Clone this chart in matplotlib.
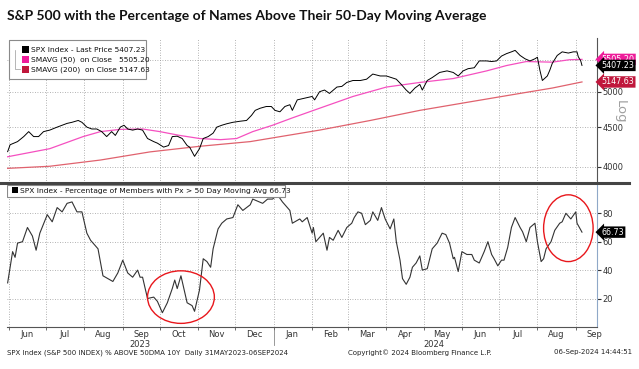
import pandas as pd
import matplotlib
matplotlib.use('Agg')
import matplotlib.pyplot as plt
import matplotlib.dates as mdates
from matplotlib.patches import Ellipse
from matplotlib.ticker import FixedLocator, NullFormatter, NullLocator

# data (days since 31 May 2023)
startDate = pd.Timestamp('2023-05-31')

spxDays = [0, 2, 8, 13, 17, 21, 25, 29, 34, 40, 44, 48, 52, 57, 60, 64, 68, 72, 76, 80,
           84, 87, 91, 94, 97, 101, 105, 109, 113, 118, 121, 126, 130, 133, 137, 141, 145, 147, 151, 155,
           158, 162, 166, 169, 173, 177, 182, 188, 193, 197, 200, 204, 209, 213, 216, 220, 224, 228, 230, 234,
           240, 246, 248, 252, 256, 260, 266, 270, 274, 279, 285, 290, 295, 301, 306, 310, 314, 318, 322, 325,
           329, 333, 335, 339, 343, 349, 355, 360, 364, 368, 372, 377, 381, 387, 391, 395, 399, 403, 407, 410,
           414, 418, 422, 426, 428, 430, 432, 436, 438, 440, 444, 448, 453, 457, 460, 461, 463, 464]
spxPrice = [4183, 4270, 4310, 4375, 4440, 4375, 4375, 4440, 4460, 4500, 4525, 4550, 4565, 4590, 4565, 4500, 4475, 4475, 4440, 4375,
            4440, 4390, 4500, 4525, 4475, 4460, 4475, 4460, 4350, 4310, 4290, 4240, 4260, 4375, 4380, 4350, 4260, 4240, 4125, 4220,
            4350, 4375, 4420, 4500, 4525, 4545, 4565, 4580, 4590, 4660, 4730, 4760, 4785, 4785, 4730, 4710, 4785, 4810, 4730, 4880,
            4905, 4930, 4880, 5000, 5025, 4975, 5070, 5080, 5140, 5170, 5170, 5190, 5270, 5240, 5240, 5215, 5190, 5110, 5025, 4975,
            5055, 5110, 5025, 5170, 5215, 5295, 5320, 5295, 5240, 5320, 5355, 5370, 5480, 5480, 5470, 5480, 5560, 5600, 5630, 5655,
            5570, 5515, 5480, 5515, 5540, 5330, 5170, 5240, 5330, 5440, 5570, 5630, 5610, 5630, 5630, 5550, 5480, 5407.23]

sma50Days = [0, 34, 61, 75, 91, 109, 123, 139, 155, 172, 185, 198, 214, 230, 252, 279, 306, 333, 360, 387, 403, 419, 440, 454, 464]
sma50 = [4120, 4220, 4375, 4440, 4470, 4475, 4440, 4390, 4350, 4335, 4350, 4440, 4525, 4625, 4760, 4930, 5070, 5140, 5200, 5320,
         5405, 5470, 5460, 5500, 5505.20]

sma200Days = [0, 34, 75, 115, 155, 196, 252, 293, 333, 373, 414, 440, 464]
sma200 = [3980, 4005, 4080, 4180, 4250, 4310, 4460, 4590, 4730, 4850, 4975, 5055, 5147.63]

pctDays = [0, 4, 6, 8, 12, 16, 20, 23, 26, 32, 36, 40, 44, 48, 52, 56, 60, 64, 67, 73,
           77, 81, 85, 89, 93, 97, 101, 105, 107, 109, 113, 118, 121, 125, 129, 133, 135, 137, 140, 145,
           149, 151, 155, 158, 161, 164, 166, 170, 173, 177, 182, 186, 190, 196, 198, 206, 210, 214, 218, 222,
           228, 230, 236, 238, 242, 246, 247, 249, 252, 255, 258, 260, 263, 267, 270, 274, 278, 280, 283, 286,
           289, 293, 295, 299, 302, 305, 309, 312, 314, 317, 319, 322, 325, 327, 330, 333, 335, 339, 341, 343,
           347, 351, 354, 357, 360, 361, 364, 367, 371, 375, 377, 381, 385, 388, 391, 393, 396, 399, 401, 404,
           407, 410, 414, 416, 419, 422, 426, 428, 431, 433, 435, 439, 442, 446, 448, 451, 455, 459, 460, 464]
pctAbove = [31, 53, 49, 59, 60, 70, 64, 54, 66, 79, 74, 84, 81, 87, 88, 81, 81, 66, 61, 55,
            36, 34, 32, 38, 47, 38, 35, 40, 35, 35, 20, 21, 18, 10, 17, 27, 33, 27, 36, 17,
            15, 11, 26, 48, 46, 42, 55, 69, 73, 76, 77, 86, 82, 86, 90, 87, 90, 90, 93, 88,
            82, 73, 76, 74, 77, 66, 70, 60, 63, 66, 54, 63, 61, 68, 63, 70, 73, 77, 81, 80,
            72, 75, 81, 75, 84, 76, 69, 76, 60, 47, 34, 30, 35, 42, 45, 50, 40, 41, 48, 55,
            59, 66, 65, 59, 48, 49, 39, 53, 51, 51, 47, 45, 53, 60, 51, 48, 43, 47, 47, 56,
            70, 77, 70, 67, 60, 70, 73, 60, 46, 48, 55, 60, 68, 73, 74, 80, 76, 81, 73, 66.73]

monthStarts = pd.date_range('2023-06-01', '2024-09-01', freq='MS')
monthLabels = ['Jun', 'Jul', 'Aug', 'Sep', 'Oct', 'Nov', 'Dec', 'Jan', 'Feb', 'Mar', 'Apr', 'May',
               'Jun', 'Jul', 'Aug', 'Sep']
yearLabels = ['2023', '2024']
priceTicks = [4000, 4500, 5000, 5500]
pctTicks = [20, 40, 60, 80]


def toDates(days):
    return startDate + pd.to_timedelta(days, unit='D')


plt.rcParams['font.family'] = ['DejaVu Sans']
fig = plt.figure(figsize=(6.39, 3.69), dpi=100)

xStart = startDate - pd.Timedelta(days=0.5)
xEnd = pd.Timestamp('2024-09-18')
gridStyle = dict(color='#9a9a9a', linestyle=(0, (1, 2)), linewidth=0.6)

# --- top panel: price and moving averages
ax1 = fig.add_axes([0.011, 0.504, 0.923, 0.393])
ax1.plot(toDates(sma200Days), sma200, color='#e0626e', linewidth=0.9)
ax1.plot(toDates(sma50Days), sma50, color='#f550c0', linewidth=0.9)
ax1.plot(toDates(spxDays), spxPrice, color='black', linewidth=0.7)
ax1.set_yscale('log')
ax1.set_ylim(3810, 5867)
ax1.set_xlim(xStart, xEnd)
ax1.yaxis.set_major_locator(FixedLocator(priceTicks))
ax1.yaxis.set_minor_locator(NullLocator())
ax1.yaxis.set_minor_formatter(NullFormatter())
ax1.set_yticklabels([str(t) if t != 5500 else '' for t in priceTicks])
ax1.yaxis.tick_right()
ax1.xaxis.set_major_locator(FixedLocator(mdates.date2num(monthStarts)))
ax1.tick_params(axis='x', length=0, labelbottom=False)
ax1.tick_params(axis='y', length=3, width=0.8, direction='out', labelsize=6, colors='#333333', pad=1)
ax1.grid(True, **gridStyle)
for side in ['left', 'top', 'bottom']:
    ax1.spines[side].set_visible(False)
ax1.spines['right'].set_color('#555555')

# legend box, top panel
legendItems = [('SPX Index - Last Price 5407.23', 'black'),
               ('SMAVG (50)  on Close   5505.20', '#ee1c9a'),
               ('SMAVG (200)  on Close 5147.63', '#c0173c')]
ax1.add_patch(plt.Rectangle((0.003, 0.72), 0.232, 0.265, transform=ax1.transAxes,
                            facecolor='white', edgecolor='#8a8a8a', linewidth=0.8, zorder=5))
for i, (label, col) in enumerate(legendItems):
    yPos = 0.92 - i * 0.068
    ax1.add_patch(plt.Rectangle((0.026, yPos - 0.025), 0.011, 0.05, transform=ax1.transAxes,
                                facecolor=col, edgecolor='none', zorder=6))
    ax1.text(0.04, yPos, label, transform=ax1.transAxes, fontsize=5.4, va='center',
             ha='left', color='#111111', zorder=6)
ax1.plot([0.013, 0.013, 0.022], [0.92, 0.784, 0.784], transform=ax1.transAxes,
         color='#999999', linewidth=0.5, zorder=6)

# value tags on the right
tagStyle = dict(transform=ax1.get_yaxis_transform(), fontsize=5.8, ha='left', va='center',
                color='white', clip_on=False, zorder=8)
ax1.text(1.008, sma50[-1], '5505.20', bbox=dict(boxstyle='larrow,pad=0.15', fc='#ee1c9a', ec='none'), **tagStyle)
ax1.text(1.008, spxPrice[-1], '5407.23', bbox=dict(boxstyle='larrow,pad=0.15', fc='black', ec='none'), **tagStyle)
ax1.text(1.008, sma200[-1], '5147.63', bbox=dict(boxstyle='larrow,pad=0.15', fc='#c0173c', ec='none'), **tagStyle)
ax1.text(1.04, 4707, 'Log', transform=ax1.get_yaxis_transform(), rotation=-90, fontsize=9.5,
         color='#a0a0a0', ha='center', va='center')

# --- bottom panel: percentage of members above 50-day MA
ax2 = fig.add_axes([0.011, 0.114, 0.923, 0.385])
ax2.plot(toDates(pctDays), pctAbove, color='#333333', linewidth=0.8)
ax2.set_ylim(0, 100)
ax2.set_xlim(xStart, xEnd)
ax2.yaxis.set_major_locator(FixedLocator(pctTicks))
ax2.yaxis.tick_right()
ax2.tick_params(axis='y', length=3, width=0.8, direction='out', labelsize=6, colors='#333333', pad=1)
ax2.xaxis.set_major_locator(FixedLocator(mdates.date2num(monthStarts)))
ax2.xaxis.set_major_formatter(NullFormatter())
ax2.tick_params(axis='x', which='major', length=2.5, width=0.6, color='#555555')
midMonths = monthStarts + pd.Timedelta(days=15)
ax2.xaxis.set_minor_locator(FixedLocator(mdates.date2num(midMonths)))
ax2.xaxis.set_minor_formatter(matplotlib.ticker.FixedFormatter(monthLabels))
ax2.tick_params(axis='x', which='minor', length=0, labelsize=6, colors='#333333', pad=2)
ax2.grid(True, which='major', **gridStyle)
for side in ['left', 'top']:
    ax2.spines[side].set_visible(False)
ax2.spines['right'].set_color('#8fa8c8')
ax2.spines['bottom'].set_color('#555555')

# year labels under the month labels
yearMid = [pd.Timestamp('2023-09-15'), pd.Timestamp('2024-05-09')]
for yr, d in zip(yearLabels, yearMid):
    ax2.text(d, -0.125, yr, transform=ax2.get_xaxis_transform(), fontsize=6, ha='center',
             va='center', color='#333333')
ax2.plot([pd.Timestamp('2024-01-01')] * 2, [-0.02, -0.13], transform=ax2.get_xaxis_transform(),
         color='#888888', linewidth=0.6, clip_on=False)

# legend box, bottom panel
ax2.add_patch(plt.Rectangle((0.0, 0.915), 0.472, 0.085, transform=ax2.transAxes,
                            facecolor='white', edgecolor='#8a8a8a', linewidth=0.8, zorder=5))
ax2.add_patch(plt.Rectangle((0.008, 0.94), 0.011, 0.045, transform=ax2.transAxes,
                            facecolor='black', edgecolor='none', zorder=6))
ax2.text(0.022, 0.958, 'SPX Index - Percentage of Members with Px > 50 Day Moving Avg 66.73',
         transform=ax2.transAxes, fontsize=5.4, va='center', ha='left', color='#111111', zorder=6)

ax2.text(1.008, pctAbove[-1], '66.73', transform=ax2.get_yaxis_transform(), fontsize=5.8, ha='left',
         va='center', color='white', clip_on=False, zorder=8,
         bbox=dict(boxstyle='larrow,pad=0.15', fc='black', ec='none'))

# red circles highlighting the extremes
ax2.add_patch(Ellipse((mdates.date2num(pd.Timestamp('2023-10-18')), 21), 54, 37,
                      facecolor='none', edgecolor='#e8171c', linewidth=1.0, zorder=7))
ax2.add_patch(Ellipse((mdates.date2num(pd.Timestamp('2024-08-26')), 69.5), 40, 47,
                      facecolor='none', edgecolor='#e8171c', linewidth=1.0, zorder=7))

# separator between panels
fig.add_artist(plt.Line2D([0.0, 0.985], [0.503, 0.503], color='#444444', linewidth=2.2))

# title and footer
fig.text(0.011, 0.957, 'S&P 500 with the Percentage of Names Above Their 50-Day Moving Average',
         fontsize=10, fontweight='bold', family='Lato', ha='left', va='center', color='#111111')
fig.text(0.011, 0.045, 'SPX Index (S&P 500 INDEX) % ABOVE 50DMA 10Y  Daily 31MAY2023-06SEP2024',
         fontsize=5.0, ha='left', va='center', color='#222222')
fig.text(0.657, 0.045, 'Copyright\u00a9 2024 Bloomberg Finance L.P.', fontsize=5.0, ha='center',
         va='center', color='#222222')
fig.text(0.99, 0.045, '06-Sep-2024 14:44:51', fontsize=5.0, ha='right', va='center', color='#222222')

fig.savefig('out.png', dpi=100)
